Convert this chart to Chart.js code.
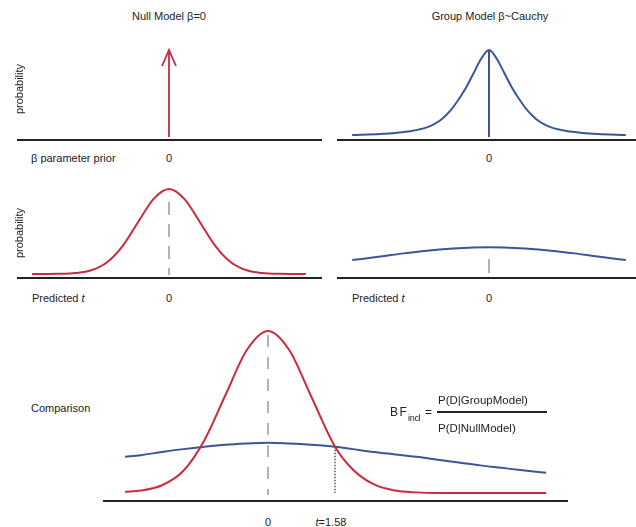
<!DOCTYPE html>
<html>
<head>
<meta charset="utf-8">
<script src="https://cdn.jsdelivr.net/npm/chart.js@4/dist/chart.umd.min.js"></script>
<style>
  body { margin: 0; background: #fff; }
  #fig { position: relative; width: 636px; height: 527px; overflow: hidden;
         font-family: "Liberation Sans", Arial, sans-serif; font-size: 11px; color: #222; }
  #fig canvas { position: absolute; }
  .t { position: absolute; white-space: nowrap; line-height: 1; }
</style>
</head>
<body>
<div id="fig"></div>
<script>
// ---------------- DATA ----------------
// Top-left: null model prior, a point mass at beta = 0
const nullPriorX = [0];
const nullPriorP = [1];

// Top-right: group model prior (Cauchy-shaped), beta vs relative probability
const cauchyX = [-4.4, -3.5, -3, -2.5, -2, -1.75, -1.5, -1.25, -1, -0.75, -0.5, -0.25, 0,
                 0.25, 0.5, 0.75, 1, 1.25, 1.5, 1.75, 2, 2.5, 3, 3.5, 4.4];
const cauchyP = [0.023, 0.035, 0.047, 0.068, 0.11, 0.15, 0.21, 0.30, 0.42, 0.56, 0.73, 0.9, 1,
                 0.9, 0.73, 0.56, 0.42, 0.30, 0.21, 0.15, 0.11, 0.068, 0.047, 0.035, 0.023];

// Middle-left: predicted t under null model
const nullPredX = [-4.4, -3.5, -3, -2.5, -2, -1.5, -1, -0.5, 0, 0.5, 1, 1.5, 2, 2.5, 3, 3.5, 4.4];
const nullPredP = [0, 0.002, 0.011, 0.044, 0.135, 0.325, 0.607, 0.882, 1, 0.882, 0.607, 0.325, 0.135, 0.044, 0.011, 0.002, 0];

// Middle-right: predicted t under group model
const groupPredX = [-4.4, -3.5, -2.76, -2, -1.15, -0.5, 0, 0.5, 1.15, 2, 2.76, 3.5, 4.4];
const groupPredP = [0.165, 0.205, 0.243, 0.275, 0.300, 0.312, 0.315, 0.312, 0.300, 0.275, 0.243, 0.205, 0.165];

// Bottom: comparison of the two predictive densities
const compX     = [-3.37, -3, -2.5, -2, -1.5, -1, -0.5, 0, 0.5, 1, 1.58, 2, 2.5, 3, 3.5, 4, 4.5, 5, 5.5, 6, 6.56];
const compNull  = [0.003, 0.006, 0.019, 0.054, 0.13, 0.242, 0.352, 0.399, 0.352, 0.242, 0.114, 0.058, 0.021, 0.006, 0.0015, 0, 0, 0, 0, 0, 0];
const compGroup = [0.089, 0.093, 0.101, 0.108, 0.114, 0.119, 0.122, 0.124, 0.122, 0.119, 0.114, 0.108, 0.101, 0.095, 0.089, 0.082, 0.075, 0.068, 0.062, 0.056, 0.050];

// Observed statistic and its density height
const observedT = 1.58;
const observedDensity = 0.114;

// Zero-marker extents (value units)
const nullPredMarker  = [0.847, -0.012];
const groupPredMarker = [0.176, 0.012];
const compMarker      = [0.389, -0.005];

// Tick labels
const priorTickValues = [0];
const priorTickLabels = ['0'];
const predTickValues  = [0];
const predTickLabels  = ['0'];
const compTickValues  = [0, observedT];
const compTickLabels  = ['0', '<i>t</i>=1.58'];

// ---------------- STYLE / LAYOUT ----------------
const RED = '#c92a40', BLUE = '#3b5598', GRAY = '#9a9a9a', BLACK = '#222';
const compTickShift = [0, -4];   // label nudges in px
const fig = document.getElementById('fig');

function makeChart(box, xr, yr, datasets, plugins) {
  const c = document.createElement('canvas');
  c.width = box.w; c.height = box.h;
  c.style.left = box.x + 'px'; c.style.top = box.y + 'px';
  c.style.width = box.w + 'px'; c.style.height = box.h + 'px';
  fig.appendChild(c);
  const chart = new Chart(c, {
    type: 'scatter',
    data: { datasets },
    options: {
      responsive: false, animation: false, events: [],
      layout: { padding: 0 },
      plugins: { legend: { display: false }, tooltip: { enabled: false } },
      scales: {
        x: { type: 'linear', display: false, min: xr[0], max: xr[1] },
        y: { type: 'linear', display: false, min: yr[0], max: yr[1] }
      }
    },
    plugins: plugins || []
  });
  chart._box = box;
  return chart;
}
function curve(xs, ys, color, width) {
  return { data: xs.map((x, i) => ({ x, y: ys[i] })), showLine: true, borderColor: color,
           borderWidth: width, pointRadius: 0, fill: false, clip: false, cubicInterpolationMode: 'monotone' };
}
function seg(x0, y0, x1, y1, color, width, dash) {
  return { data: [{ x: x0, y: y0 }, { x: x1, y: y1 }], showLine: true, borderColor: color,
           borderWidth: width, borderDash: dash || [], pointRadius: 0, fill: false, clip: false, tension: 0 };
}
function text(html, x, y, opts) {
  opts = opts || {};
  const d = document.createElement('div');
  d.className = 't';
  d.innerHTML = html;
  d.style.left = x + 'px'; d.style.top = y + 'px';
  if (opts.size) d.style.fontSize = opts.size + 'px';
  if (opts.ls !== undefined) d.style.letterSpacing = opts.ls + 'px';
  let tr = opts.align === 'left' ? 'translate(0,-50%)' : 'translate(-50%,-50%)';
  if (opts.rot) tr += ' rotate(' + opts.rot + 'deg)';
  d.style.transform = tr;
  fig.appendChild(d);
}
function ticks(chart, values, labels, y, shifts) {
  values.forEach((v, i) => {
    const px = chart._box.x + chart.scales.x.getPixelForValue(v) + (shifts ? shifts[i] : 0);
    text(labels[i], px, y);
  });
}

// Ranges (derived from the reference layout)
const topXL = [-4.887, 4.92], topXR = [-4.887, 4.727];
const topY = [-0.092, 1.115], topAxis = -0.0345;
const midY = [-0.129, 1.165], midAxis = -0.047;
const compXR = [-3.892, 7.075], compY = [-0.0419, 0.426], compAxis = -0.0197;

// Arrow head for the null prior spike
const arrowHead = {
  id: 'arrowHead',
  afterDatasetsDraw(chart) {
    const tip = chart.getDatasetMeta(0).data[1];
    const ctx = chart.ctx;
    ctx.save();
    ctx.strokeStyle = RED; ctx.lineWidth = 1.8;
    ctx.beginPath();
    ctx.moveTo(tip.x - 7, tip.y + 16); ctx.lineTo(tip.x, tip.y); ctx.lineTo(tip.x + 7, tip.y + 16);
    ctx.stroke();
    ctx.restore();
  }
};

// Panel A: null prior
const chA = makeChart({ x: 17, y: 40, w: 305, h: 105 }, topXL, topY, [
  seg(nullPriorX[0], 0, nullPriorX[0], nullPriorP[0], RED, 1.8),
  seg(topXL[0], topAxis, topXL[1], topAxis, BLACK, 2)
], [arrowHead]);

// Panel B: Cauchy prior
const chB = makeChart({ x: 337, y: 40, w: 299, h: 105 }, topXR, topY, [
  curve(cauchyX, cauchyP, BLUE, 2),
  seg(0, 0, 0, Math.max(...cauchyP), BLUE, 2),
  seg(topXR[0], topAxis, topXR[1], topAxis, BLACK, 2)
]);

// Panel C: predicted t under null
const chC = makeChart({ x: 17, y: 175, w: 305, h: 110 }, topXL, midY, [
  curve(nullPredX, nullPredP, RED, 2),
  seg(0, nullPredMarker[0], 0, nullPredMarker[1], GRAY, 1.5, [13, 9]),
  seg(topXL[0], midAxis, topXL[1], midAxis, BLACK, 2)
]);

// Panel D: predicted t under group model
const chD = makeChart({ x: 337, y: 175, w: 299, h: 110 }, topXR, midY, [
  curve(groupPredX, groupPredP, BLUE, 2),
  seg(0, groupPredMarker[0], 0, groupPredMarker[1], GRAY, 1.5),
  seg(topXR[0], midAxis, topXR[1], midAxis, BLACK, 2)
]);

// Panel E: comparison
const chE = makeChart({ x: 103, y: 320, w: 465, h: 190 }, compXR, compY, [
  curve(compX, compNull, RED, 2),
  curve(compX, compGroup, BLUE, 2),
  seg(0, compMarker[0], 0, compMarker[1], GRAY, 1.5, [12, 10]),
  seg(observedT, observedDensity, observedT, 0, '#555', 1.5, [1.5, 1.5]),
  seg(compXR[0], compAxis, compXR[1], compAxis, BLACK, 2)
]);

// ---------------- TEXT ----------------
text('Null Model \u03B2=0', 169, 16);
text('Group Model \u03B2~Cauchy', 490, 16);
text('probability', 19, 89, { rot: -90 });
text('probability', 19, 233, { rot: -90 });
text('\u03B2 parameter prior', 31, 158, { align: 'left' });
text('Predicted <i>t</i>', 32, 298, { align: 'left' });
text('Predicted <i>t</i>', 352, 298, { align: 'left' });
text('Comparison', 31, 408, { align: 'left' });

ticks(chA, priorTickValues, priorTickLabels, 158);
ticks(chB, priorTickValues, priorTickLabels, 158);
ticks(chC, predTickValues, predTickLabels, 298);
ticks(chD, predTickValues, predTickLabels, 298);
ticks(chE, compTickValues, compTickLabels, 522, compTickShift);

// Bayes factor formula
text('BF', 390, 412, { align: 'left', size: 12, ls: 1.5 });
text('incl', 408, 418, { align: 'left', size: 9, ls: -0.3 });
text('=', 425, 412, { align: 'left', size: 12 });
text('P(D|GroupModel)', 438, 401, { align: 'left', size: 11.5 });
text('P(D|NullModel)', 438, 429, { align: 'left', size: 11.5 });
const bar = document.createElement('div');
bar.style.cssText = 'position:absolute;left:437px;top:411px;width:110px;height:1.5px;background:#222;';
fig.appendChild(bar);
</script>
</body>
</html>
